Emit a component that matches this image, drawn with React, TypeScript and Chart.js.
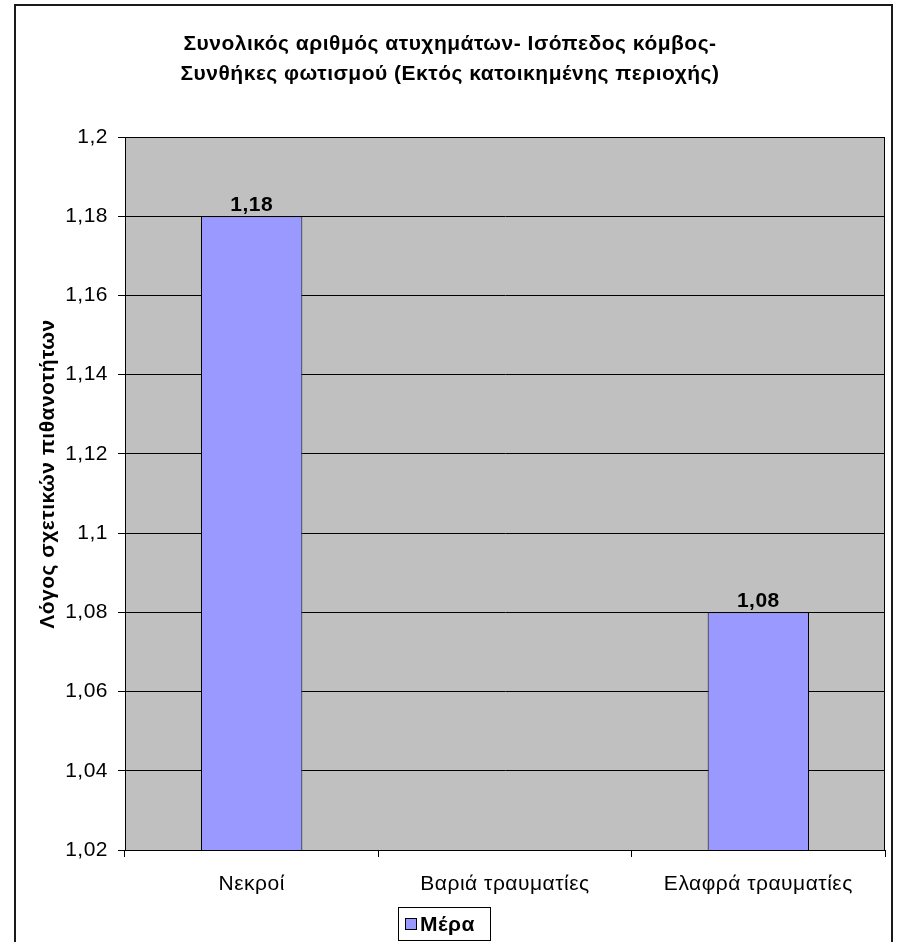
import React, { useEffect, useRef } from "react";
import { Chart, registerables } from "chart.js";

Chart.register(...registerables);

// Chart content
const titleLines = [
  "Συνολικός αριθμός ατυχημάτων- Ισόπεδος κόμβος-",
  "Συνθήκες φωτισμού (Εκτός κατοικημένης περιοχής)",
];
const categories = ["Νεκροί", "Βαριά τραυματίες", "Ελαφρά τραυματίες"];
const seriesName = "Μέρα";
const dayValues: (number | null)[] = [1.18, null, 1.08];
const yAxisTitle = "Λόγος σχετικών πιθανοτήτων";
const yMin = 1.02;
const yMax = 1.2;
const yStep = 0.02;

const FONT = "'Liberation Sans', Arial, sans-serif";
const FONT_SIZE = 21;
const LETTER_SPACING = "0.5px";
const BAR_FILL = "#9999FF";
const PLOT_FILL = "#C0C0C0";

const fmt = (v: number) => String(Number(v.toFixed(2))).replace(".", ",");

const setSpacing = (chart: any) => {
  if (chart.ctx) (chart.ctx as any).letterSpacing = LETTER_SPACING;
};

const decorPlugin = {
  id: "decor",
  beforeInit: setSpacing,
  beforeUpdate: setSpacing,
  beforeLayout: setSpacing,
  beforeDraw(chart: any) {
    const { ctx, chartArea: a } = chart;
    setSpacing(chart);
    ctx.save();
    ctx.fillStyle = "#ffffff";
    ctx.fillRect(0, 0, chart.width, chart.height);
    ctx.fillStyle = PLOT_FILL;
    ctx.fillRect(a.left, a.top, a.right - a.left, a.bottom - a.top);
    // outer frame
    ctx.strokeStyle = "#1a1a1a";
    ctx.lineWidth = 2;
    ctx.strokeRect(15, 5, 877, 1000);
    ctx.restore();
  },
  afterDraw(chart: any) {
    const { ctx, chartArea: a } = chart;
    ctx.save();
    ctx.letterSpacing = LETTER_SPACING;
    // plot area border
    ctx.strokeStyle = "#000";
    ctx.lineWidth = 1;
    ctx.strokeRect(a.left + 0.5, a.top + 0.5, a.right - a.left - 1, a.bottom - a.top);

    // value labels above bars
    const meta = chart.getDatasetMeta(0);
    ctx.font = `bold ${FONT_SIZE}px ${FONT}`;
    ctx.fillStyle = "#000";
    ctx.textAlign = "center";
    ctx.textBaseline = "alphabetic";
    meta.data.forEach((bar: any, i: number) => {
      const v = dayValues[i];
      if (v == null) return;
      ctx.fillText(fmt(v), bar.x, bar.y - 5);
    });

    // y axis title
    ctx.save();
    ctx.translate(54, 474);
    ctx.rotate(-Math.PI / 2);
    ctx.font = `bold ${FONT_SIZE}px ${FONT}`;
    ctx.textAlign = "center";
    ctx.textBaseline = "alphabetic";
    ctx.fillText(yAxisTitle, 0, 0);
    ctx.restore();

    // legend
    const lx = 398.5, ly = 907.5, lw = 92, lh = 33;
    ctx.fillStyle = "#fff";
    ctx.fillRect(lx, ly, lw, lh);
    ctx.strokeStyle = "#000";
    ctx.lineWidth = 1;
    ctx.strokeRect(lx, ly, lw, lh);
    ctx.fillStyle = BAR_FILL;
    ctx.fillRect(405.5, 918.5, 11, 11);
    ctx.strokeRect(405.5, 918.5, 11, 11);
    ctx.fillStyle = "#000";
    ctx.font = `bold ${FONT_SIZE}px ${FONT}`;
    ctx.textAlign = "left";
    ctx.textBaseline = "middle";
    ctx.fillText(seriesName, 420, 925);
    ctx.restore();
  },
};

export default function App() {
  const ref = useRef<HTMLCanvasElement>(null);

  useEffect(() => {
    if (!ref.current) return;
    const chart = new Chart(ref.current, {
      type: "bar",
      data: {
        labels: categories,
        datasets: [
          {
            label: seriesName,
            data: dayValues,
            backgroundColor: BAR_FILL,
            borderColor: "#000",
            borderWidth: 1,
            categoryPercentage: 1,
            barPercentage: 0.4,
          },
        ],
      },
      options: {
        responsive: false,
        animation: false,
        devicePixelRatio: 1,
        layout: { padding: { top: 29, left: 15, right: 12, bottom: 0 } },
        plugins: {
          legend: { display: false },
          tooltip: { enabled: false },
          title: {
            display: true,
            text: titleLines,
            color: "#000",
            font: { family: FONT, size: FONT_SIZE, weight: "bold", lineHeight: 30 / FONT_SIZE },
            padding: { top: 0, bottom: 48 },
          },
        },
        scales: {
          x: {
            grid: {
              offset: true,
              drawOnChartArea: false,
              drawTicks: true,
              tickLength: 7,
              color: "#000",
            },
            border: { display: true, color: "#000" },
            ticks: {
              color: "#000",
              font: { family: FONT, size: FONT_SIZE },
              padding: 15,
              maxRotation: 0,
            },
            afterFit(scale: any) {
              scale.height = 92;
            },
          },
          y: {
            min: yMin,
            max: yMax,
            grid: { color: "#000", tickLength: 7, drawTicks: true },
            border: { display: true, color: "#000" },
            ticks: {
              stepSize: yStep,
              color: "#000",
              font: { family: FONT, size: FONT_SIZE },
              padding: 10,
              callback: (v: any) => fmt(Number(v)),
            },
            afterFit(scale: any) {
              scale.width = 110;
            },
          },
        },
      },
      plugins: [decorPlugin],
    });
    return () => chart.destroy();
  }, []);

  return (
    <div style={{ position: "absolute", left: 0, top: 0, width: 897, height: 942 }}>
      <canvas ref={ref} width={897} height={942} style={{ width: 897, height: 942 }} />
    </div>
  );
}
